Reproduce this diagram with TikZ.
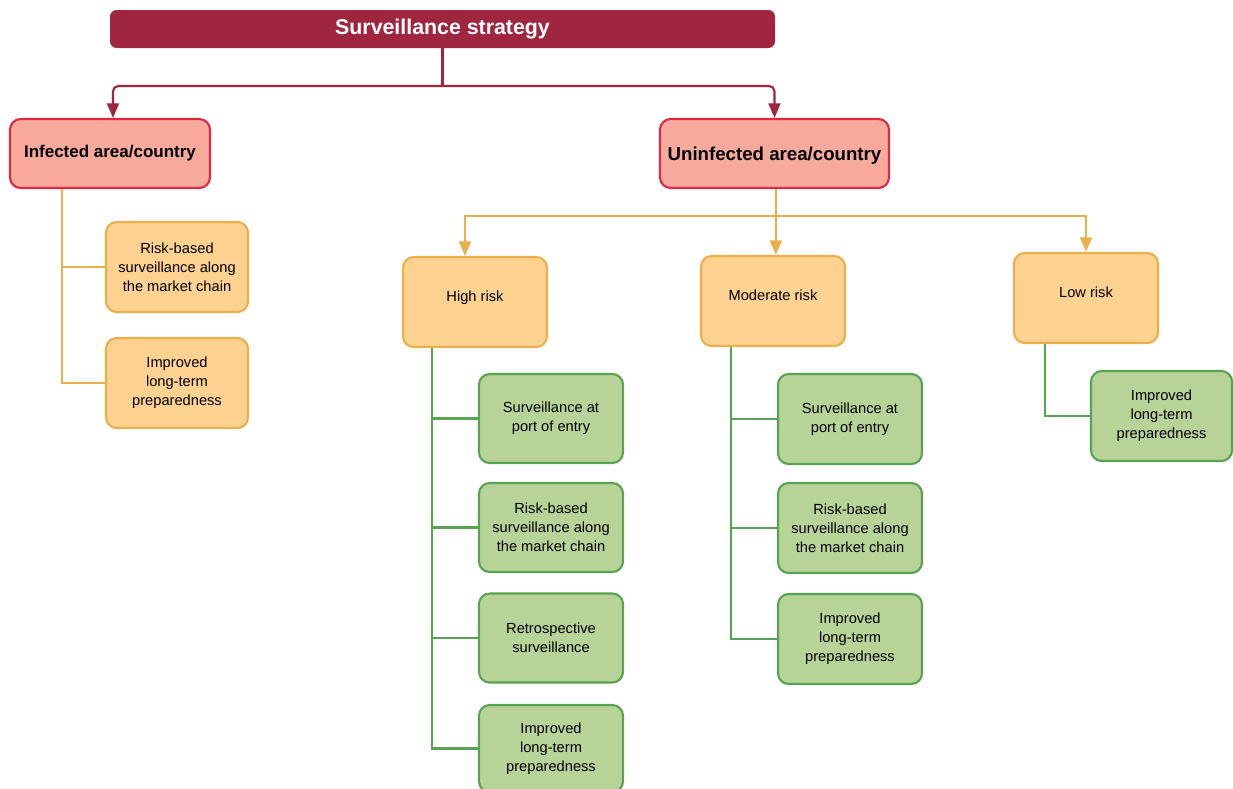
\documentclass[tikz,border=0pt]{standalone}
\usepackage{fontspec}
\setmainfont{Liberation Sans}
\usetikzlibrary{arrows.meta}
\definecolor{darkred}{HTML}{A0263F}
\definecolor{pinkfill}{HTML}{F7AA9B}
\definecolor{pinkline}{HTML}{DC2A45}
\definecolor{orfill}{HTML}{FDD290}
\definecolor{orline}{HTML}{E9B04B}
\definecolor{grfill}{HTML}{B8D398}
\definecolor{grline}{HTML}{58A352}
\tikzset{
  titlebox/.style={rectangle, rounded corners=5pt, fill=darkred, text=white, font=\fontsize{16}{19}\selectfont\bfseries, inner sep=0pt},
  areabox/.style={rectangle, rounded corners=8pt, fill=pinkfill, draw=pinkline, line width=1.6pt, inner sep=0pt, font=\bfseries},
  orbox/.style={rectangle, rounded corners=8pt, fill=orfill, draw=orline, line width=1.6pt, inner sep=0pt, align=center, font=\fontsize{11}{14.25}\selectfont, minimum width=142*0.75pt},
  riskbox/.style={orbox, minimum width=144*0.75pt, minimum height=90*0.75pt, text depth=8pt},
  grbox/.style={rectangle, rounded corners=8pt, fill=grfill, draw=grline, line width=1.6pt, inner sep=0pt, align=center, font=\fontsize{11}{14.25}\selectfont, minimum width=144*0.75pt},
  redline/.style={draw=darkred, line width=1.6pt},
  redarrow/.style={draw=darkred, line width=1.6pt, rounded corners=4pt, -{Triangle[length=11pt,width=9pt]}},
  orarrow/.style={draw=orline, line width=1.6pt, -{Triangle[length=11pt,width=9pt]}},
  orlink/.style={draw=orline, line width=1.6pt},
  grlink/.style={draw=grline, line width=1.6pt},
}
\begin{document}
\begin{tikzpicture}[x=0.75pt,y=-0.75pt]
\clip (0,0) rectangle (1233,789);
\fill[white] (0,0) rectangle (1233,789);
% nodes
\node[titlebox, minimum width=665*0.75pt, minimum height=38*0.75pt] (title) at (442.5,29) {Surveillance strategy};
\node[areabox, minimum width=200*0.75pt, minimum height=69*0.75pt, font=\fontsize{12.75}{15}\selectfont\bfseries] (inf) at (110,153.5) {Infected area/country};
\node[areabox, minimum width=229*0.75pt, minimum height=69*0.75pt, font=\fontsize{14}{17}\selectfont\bfseries, text height=14pt] (uninf) at (774.5,153.5) {Uninfected area/country};
\node[orbox, minimum height=90*0.75pt] (inf1) at (177,267) {Risk-based\\surveillance along\\the market chain};
\node[orbox, minimum height=90*0.75pt] (inf2) at (177,383) {Improved\\long-term\\preparedness};
\node[riskbox] (high) at (475,302) {High risk};
\node[riskbox] (mod) at (773,301) {Moderate risk};
\node[riskbox] (low) at (1086,298) {Low risk};
\node[grbox, minimum height=89*0.75pt] (h1) at (551,418.5) {Surveillance at\\port of entry};
\node[grbox, minimum height=89*0.75pt] (h2) at (551,527.5) {Risk-based\\surveillance along\\the market chain};
\node[grbox, minimum height=89*0.75pt] (h3) at (551,638) {Retrospective\\surveillance};
\node[grbox, minimum height=87*0.75pt] (h4) at (551,748.5) {Improved\\long-term\\preparedness};
\node[grbox, minimum height=90*0.75pt] (m1) at (850,419) {Surveillance at\\port of entry};
\node[grbox, minimum height=90*0.75pt] (m2) at (850,528) {Risk-based\\surveillance along\\the market chain};
\node[grbox, minimum height=90*0.75pt] (m3) at (850,639) {Improved\\long-term\\preparedness};
\node[grbox, minimum width=141*0.75pt, minimum height=90*0.75pt] (l1) at (1161.5,416) {Improved\\long-term\\preparedness};
% helper coordinates
\coordinate (rbar) at (0,86);
\coordinate (obar) at (0,216);
\coordinate (ix) at (62,0);
\coordinate (hx) at (432,0);
\coordinate (mx) at (731,0);
\coordinate (lx) at (1045,0);
% connectors
\draw[redline] (title.south) -- (title.south |- rbar);
\draw[redarrow] (title.south |- rbar) -| ([xshift=2.25pt]inf.north);
\draw[redarrow] (title.south |- rbar) -| (uninf.north);
\draw[orarrow] ([xshift=1pt]uninf.south) -- ([xshift=1pt]uninf.south |- mod.north);
\draw[orarrow] ([xshift=1pt]uninf.south |- obar) -| ([xshift=-7.5pt]high.north);
\draw[orarrow] ([xshift=1pt]uninf.south |- obar) -| (low.north);
\draw[orlink] (inf.south -| ix) |- (inf2.west);
\draw[orlink] (ix |- inf1.west) -- (inf1.west);
\draw[grlink] (high.south -| hx) |- (h4.west);
\draw[grlink] (hx |- h1.west) -- (h1.west);
\draw[grlink] (hx |- h2.west) -- (h2.west);
\draw[grlink] (hx |- h3.west) -- (h3.west);
\draw[grlink] (mod.south -| mx) |- (m3.west);
\draw[grlink] (mx |- m1.west) -- (m1.west);
\draw[grlink] (mx |- m2.west) -- (m2.west);
\draw[grlink] (low.south -| lx) |- (l1.west);
\end{tikzpicture}
\end{document}
